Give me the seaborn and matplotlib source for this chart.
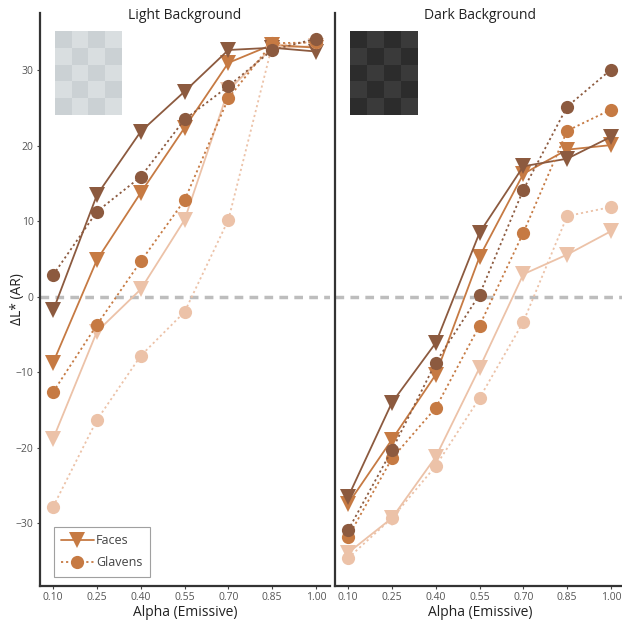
import numpy as np
import pandas as pd
import seaborn as sns
import matplotlib
matplotlib.use("Agg")
import matplotlib.pyplot as plt
from matplotlib.lines import Line2D

# data
alpha = [0.10, 0.25, 0.40, 0.55, 0.70, 0.85, 1.00]
shades = ["dark", "medium", "light"]

light_faces_dark = [-1.8, 13.5, 21.9, 27.2, 32.7, 33.0, 32.5]
light_faces_medium = [-8.7, 4.9, 13.8, 22.4, 31.0, 33.4, 33.0]
light_faces_light = [-18.8, -4.6, 1.0, 10.2, 27.4, 33.0, 33.2]
light_glavens_dark = [2.9, 11.3, 15.9, 23.5, 27.9, 32.7, 34.2]
light_glavens_medium = [-12.6, -3.7, 4.7, 12.8, 26.3, 33.6, 33.7]
light_glavens_light = [-27.8, -16.3, -7.8, -2.0, 10.2, 33.3, 33.8]

dark_faces_dark = [-26.5, -14.0, -6.1, 8.5, 17.3, 18.3, 21.2]
dark_faces_medium = [-27.4, -18.9, -10.3, 5.3, 16.3, 19.5, 20.1]
dark_faces_light = [-33.9, -29.3, -21.2, -9.4, 3.0, 5.6, 8.7]
dark_glavens_dark = [-30.9, -20.3, -8.7, 0.3, 14.2, 25.2, 30.1]
dark_glavens_medium = [-31.8, -21.4, -14.7, -3.8, 8.5, 22.0, 24.8]
dark_glavens_light = [-34.6, -29.3, -22.4, -13.4, -3.3, 10.7, 11.9]

series = {
    ("Light Background", "Faces"): [light_faces_dark, light_faces_medium, light_faces_light],
    ("Light Background", "Glavens"): [light_glavens_dark, light_glavens_medium, light_glavens_light],
    ("Dark Background", "Faces"): [dark_faces_dark, dark_faces_medium, dark_faces_light],
    ("Dark Background", "Glavens"): [dark_glavens_dark, dark_glavens_medium, dark_glavens_light],
}
rows = []
for (bg, stim), vals in series.items():
    for shade, ys in zip(shades, vals):
        for a, y in zip(alpha, ys):
            rows.append({"bg": bg, "stim": stim, "shade": shade, "alpha": a, "dL": y})
df = pd.DataFrame(rows)

pal = {"dark": "#8C5A3F", "medium": "#C67A43", "light": "#ECC2A8"}

sns.set_style("white")
plt.rcParams["font.family"] = ["Open Sans", "DejaVu Sans"]

fig = plt.figure(figsize=(6.22, 6.24), dpi=100)
W, H = 622, 624
ax1 = fig.add_axes([40 / W, 38 / H, 290 / W, 573 / H])
ax2 = fig.add_axes([335 / W, 38 / H, 290 / W, 573 / H])

checks = {"Light Background": ("#CBD1D4", "#D9DEE0"), "Dark Background": ("#2C2C2C", "#3A3A3A")}
inset_x = {"Light Background": 55, "Dark Background": 350}

for ax, bg in [(ax1, "Light Background"), (ax2, "Dark Background")]:
    ax.axhline(0, color="#BDBDBD", lw=2.5, ls=(0, (2.5, 1.8)), zorder=1)
    sub = df[df.bg == bg]
    for stim, mk, ms, ls in [("Faces", "v", 11, "-"), ("Glavens", "o", 9.5, (0, (1.2, 1.6)))]:
        for shade in ["light", "medium", "dark"]:
            d = sub[(sub.stim == stim) & (sub.shade == shade)]
            sns.lineplot(data=d, x="alpha", y="dL", ax=ax, color=pal[shade],
                         marker=mk, markersize=ms, markeredgewidth=0,
                         linestyle=ls, linewidth=1.3, legend=False, zorder=3)
    ax.set_xlim(0.055, 1.048)
    ax.set_ylim(-38.3, 37.6)
    ax.set_xticks(alpha)
    ax.set_xticklabels([f"{a:.2f}" for a in alpha])
    ax.set_yticks([-30, -20, -10, 0, 10, 20, 30])
    ax.tick_params(axis="both", labelsize=7.5, labelcolor="#555555", color="#444444",
                   length=2.5, width=0.8, pad=2, direction="out", bottom=True, left=True)
    ax.set_xlabel("Alpha (Emissive)", fontsize=10, color="#222222", labelpad=1)
    ax.set_title(bg, fontsize=10, color="#222222", pad=-4)
    for s in ["top", "right"]:
        ax.spines[s].set_visible(False)
    for s in ["left", "bottom"]:
        ax.spines[s].set_color("#333333")
        ax.spines[s].set_linewidth(1.6)
    # checkerboard swatch
    iax = fig.add_axes([inset_x[bg] / W, (H - 115) / H, 67 / W, 84 / H])
    c1, c2 = checks[bg]
    board = (np.indices((5, 4)).sum(axis=0) % 2)
    iax.imshow(board, cmap=matplotlib.colors.ListedColormap([c1, c2]), aspect="auto",
               interpolation="nearest")
    iax.axis("off")

ax1.set_ylabel("ΔL* (AR)", fontsize=10, color="#222222")
ax1.yaxis.set_label_coords(-0.05, 0.5)
ax2.set_ylabel("")
ax2.tick_params(axis="y", labelleft=False, left=False)

handles = [
    Line2D([], [], color=pal["medium"], marker="v", markersize=11, markeredgewidth=0, lw=1.3),
    Line2D([], [], color=pal["medium"], marker="o", markersize=9.5, markeredgewidth=0, lw=1.3,
           ls=(0, (1.2, 1.6))),
]
leg = ax1.legend(handles, ["Faces", "Glavens"], loc="lower left", bbox_to_anchor=(0.025, 0.005),
                 frameon=True, fancybox=False, fontsize=9, handlelength=2.6,
                 borderpad=0.6, labelspacing=0.75, handletextpad=0.2)
leg.get_frame().set_edgecolor("#888888")
leg.get_frame().set_linewidth(0.8)
for t in leg.get_texts():
    t.set_color("#444444")

fig.savefig("out.png", dpi=100)
